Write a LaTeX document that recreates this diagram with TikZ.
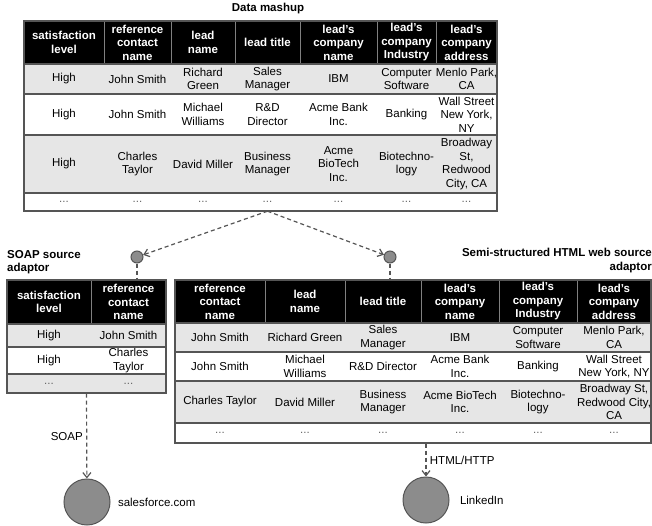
\documentclass[tikz,border=0pt]{standalone}
\usepackage{fontspec}
\setmainfont{Liberation Sans}
\usetikzlibrary{arrows.meta,positioning}

\definecolor{rowgray}{HTML}{E6E6E6}
\definecolor{rulegray}{HTML}{555555}
\definecolor{sitegray}{HTML}{8C8C8C}
\newcommand{\cellfont}{\fontsize{11.5}{13.5}\selectfont}
\newcommand{\more}{{\color{black!60}...}}

% one table: name, column edges, row edges, rows of cells (first row is the header)
\newcommand{\datatable}[4]{%
  \pgfmathtruncatemacro\ncol{dim({#2})-1}
  \pgfmathtruncatemacro\nrow{dim({#3})-1}
  \pgfmathsetmacro\xa{{#2}[0]}
  \pgfmathsetmacro\xe{{#2}[\ncol]}
  \pgfmathsetmacro\ya{{#3}[0]}
  \pgfmathsetmacro\yh{{#3}[1]}
  \pgfmathsetmacro\ye{{#3}[\nrow]}
  \foreach \cells [count=\row from 0] in {#4} {
    \pgfmathsetmacro\yt{{#3}[\row]}
    \pgfmathsetmacro\yb{{#3}[\row+1]}
    \pgfmathsetmacro\h{\yb-\yt}
    \ifnum\row=0
      \fill[black] (\xa,\yt) rectangle (\xe,\yb);
    \else\ifodd\row
      \fill[rowgray] (\xa,\yt) rectangle (\xe,\yb);
    \fi\fi
    \foreach \txt [count=\col] in \cells {
      \pgfmathsetmacro\xl{{#2}[\col-1]}
      \pgfmathsetmacro\xr{{#2}[\col]}
      \pgfmathsetmacro\w{\xr-\xl}
      \ifnum\row=0 \def\sty{headN}\else\def\sty{cellN}\fi
      \node[\sty, minimum width=\w pt, minimum height=\h pt]
        (#1-\row-\col) at ({(\xl+\xr)/2},{(\yt+\yb)/2}) {\txt};
    }
  }
  \pgfmathtruncatemacro\nsep{\ncol-1}
  \foreach \k in {1,...,\nsep} {
    \pgfmathsetmacro\xk{{#2}[\k]}
    \draw[headrule] (\xk,\ya) -- (\xk,\yh);
  }
  \pgfmathtruncatemacro\nrule{\nrow-1}
  \foreach \k in {1,...,\nrule} {
    \pgfmathsetmacro\yk{{#3}[\k]}
    \draw[rowrule] (\xa,\yk) -- (\xe,\yk);
  }
  \pgfmathsetmacro\fw{\xe-\xa}
  \pgfmathsetmacro\fh{\ye-\ya}
  \node[frameN, minimum width=\fw pt, minimum height=\fh pt]
    (#1) at ({(\xa+\xe)/2},{(\ya+\ye)/2}) {};
}

\begin{document}
\begin{tikzpicture}
  [x=1pt, y=-1pt,
   cellN/.style={inner sep=0pt, align=center, font=\cellfont},
   headN/.style={cellN, text=white, font=\cellfont\bfseries},
   titleN/.style={inner sep=0pt, font=\cellfont\bfseries},
   frameN/.style={draw=rulegray, line width=1.2pt, inner sep=0pt},
   headrule/.style={draw=gray, line width=0.8pt},
   rowrule/.style={draw=rulegray, line width=1.6pt},
   plugN/.style={circle, draw=rulegray, fill=sitegray, minimum size=12pt, inner sep=0pt, line width=1pt},
   siteN/.style={circle, draw=rulegray, fill=sitegray, minimum size=46pt, inner sep=0pt, line width=1pt},
   linkD/.style={draw=rulegray, dash pattern=on 4pt off 3pt, line width=1.2pt},
   linkA/.style={linkD, -{Straight Barb[length=5pt, width=8pt]}},
   lblN/.style={font=\cellfont},
  ]
  \useasboundingbox (0,0) rectangle (652,525);

  % data mashup
  \node[titleN] (mashtitle) at (268,9) {Data mashup};
  \datatable{mash}{24,104,171,235,300,377,436,497}{21,64,94,135,193,211}{
    {{satisfaction\\level},{reference\\contact\\name},{lead\\name},{lead title},{lead's\\company\\name},{lead's\\company\\Industry},{lead's\\company\\address}},
    {High,John Smith,{Richard\\Green},{Sales\\Manager},IBM,{Computer\\Software},{Menlo Park,\\CA}},
    {High,John Smith,{Michael\\Williams},{R\&D\\Director},{Acme Bank\\Inc.},Banking,{Wall Street\\New York,\\NY}},
    {High,{Charles\\Taylor},David Miller,{Business\\Manager},{Acme\\BioTech\\Inc.},{Biotechno-\\logy},{Broadway\\St,\\Redwood\\City, CA}},
    {\more,\more,\more,\more,\more,\more,\more}}

  % SOAP source adaptor
  \node[titleN, align=left, anchor=north west] (soaptitle) at (7,250) {SOAP source\\adaptor};
  \datatable{soap}{7,91,166}{280,324,347,374,393}{
    {{satisfaction\\level},{reference\\contact\\name}},
    {High,John Smith},
    {High,{Charles\\Taylor}},
    {\more,\more}}

  % HTML web source adaptor
  \node[titleN, align=right, anchor=north east] (webtitle) at (652,248) {Semi-structured HTML web source\\adaptor};
  \datatable{web}{175,265,345,421,499,577,651}{280,323,352,381,423,443}{
    {{reference\\contact\\name},{lead\\name},{lead title},{lead's\\company\\name},{lead's\\company\\Industry},{lead's\\company\\address}},
    {John Smith,Richard Green,{Sales\\Manager},IBM,{Computer\\Software},{Menlo Park,\\CA}},
    {John Smith,{Michael\\Williams},R\&D Director,{Acme Bank\\Inc.},Banking,{Wall Street\\New York, NY}},
    {Charles Taylor,David Miller,{Business\\Manager},{Acme BioTech\\Inc.},{Biotechno-\\logy},{Broadway St,\\Redwood City,\\CA}},
    {\more,\more,\more,\more,\more,\more}}

  % plugs
  \node[plugN] (soapplug) at (137,257) {};
  \node[plugN] (webplug) at (390,257) {};
  \draw[linkA] (mash-4-4.south) -- (soapplug);
  \draw[linkA] (mash-4-4.south) -- (webplug);
  \draw[linkD] (soapplug) -- (soapplug |- soap.north);
  \draw[linkD] (webplug) -- (webplug |- web.north);

  % sources
  \node[siteN] (salesforce) at (87,502) {};
  \node[lblN, right=4pt of salesforce] (sflabel) {salesforce.com};
  \node[siteN] (linkedin) at (426,500) {};
  \node[lblN, right=7pt of linkedin] (lilabel) {LinkedIn};
  \draw[linkA] (soap.south) -- (salesforce) node[lblN, midway, left] {SOAP};
  \draw[linkA] (linkedin |- web.south) -- (linkedin) node[lblN, midway, right] {HTML/HTTP};
\end{tikzpicture}
\end{document}
